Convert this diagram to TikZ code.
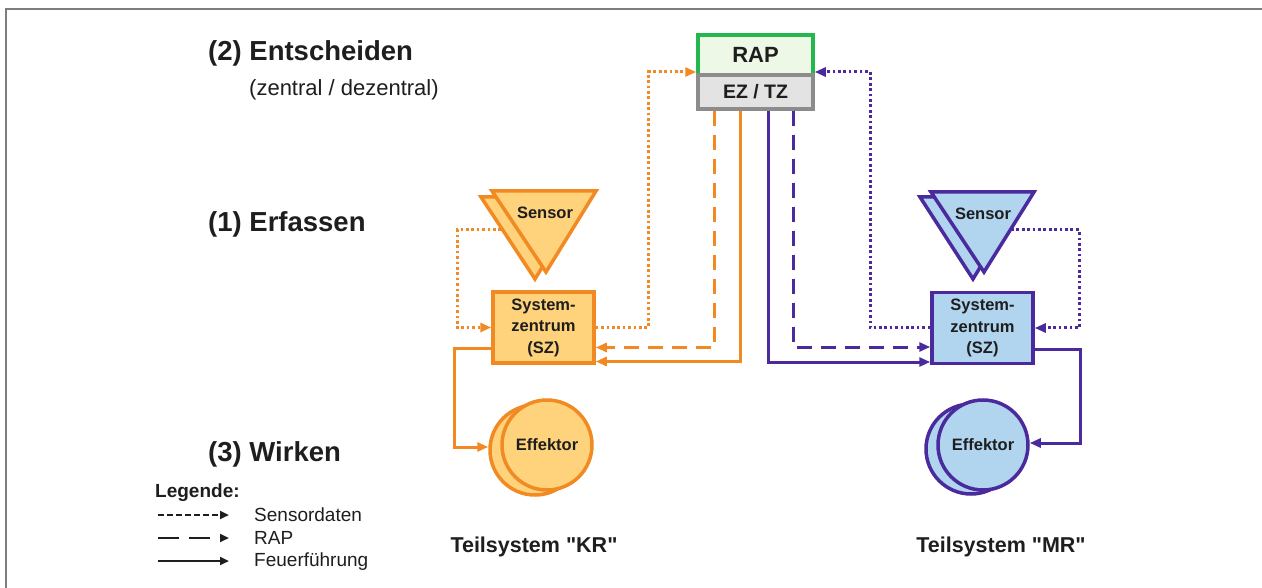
\documentclass[tikz,border=0pt]{standalone}
\usepackage{fontspec}
\setmainfont{Liberation Sans}
\usetikzlibrary{arrows.meta}

\definecolor{orgline}{HTML}{F28A24}
\definecolor{orgfill}{HTML}{FFD27C}
\definecolor{purline}{HTML}{4B2A9E}
\definecolor{purfill}{HTML}{B1D5EF}
\definecolor{rapline}{HTML}{22B84E}
\definecolor{rapfill}{HTML}{EEF8E6}
\definecolor{ezline}{HTML}{8C8C8C}
\definecolor{ezfill}{HTML}{E3E3E3}
\definecolor{ink}{HTML}{1E1E1E}
\definecolor{framegray}{HTML}{7E7E7E}

\tikzset{
  lbl/.style={font=\fontsize{16.5}{21.5}\selectfont\bfseries, text=ink, align=center, inner sep=0pt},
  heading/.style={font=\fontsize{27.5}{32}\selectfont\bfseries, text=ink, anchor=west, inner sep=0pt},
  legtext/.style={font=\fontsize{19}{22}\selectfont, text=ink, anchor=west, inner sep=0pt},
  szbox/.style={draw, line width=3.5pt, minimum width=101pt, minimum height=71pt, lbl},
  effcirc/.style={draw, circle, line width=3.5pt, minimum size=90pt, inner sep=0pt, lbl},
  tri/.style={line width=3.5pt, line join=miter},
  tip/.style={-{Triangle[length=11pt,width=9pt]}},
  sdata/.style={line width=3pt, dash pattern=on 2.7pt off 2.7pt, tip},
  rapflow/.style={line width=3pt, dash pattern=on 15pt off 9pt, tip},
  fire/.style={line width=3pt, tip},
  legtip/.style={-{Triangle[length=9pt,width=8pt]}},
}

\begin{document}
\begin{tikzpicture}[x=1pt,y=-1pt]
\useasboundingbox (0,0) rectangle (1262,588);
\fill[white] (0,0) rectangle (1262,588);

% frame lines
\draw[framegray, line width=1.8pt] (6,588) -- (6,9) -- (1262,9);

% headings
\node[heading] (h2) at (208,53) {(2) Entscheiden};
\node[legtext, font=\fontsize{22}{26}\selectfont] (h2b) at (249,90) {(zentral / dezentral)};
\node[heading] (h1) at (208,224) {(1) Erfassen};
\node[heading] (h3) at (208,454) {(3) Wirken};

% RAP and EZ/TZ
\node[draw=rapline, fill=rapfill, line width=3.5pt, minimum width=115pt, minimum height=40pt,
      lbl, font=\fontsize{22}{24}\selectfont\bfseries] (rap) at (755.5,55) {RAP};
\node[draw=ezline, fill=ezfill, line width=3.5pt, minimum width=115pt, minimum height=34pt,
      lbl, font=\fontsize{19.5}{22}\selectfont\bfseries] (ez) at (755.5,92) {EZ / TZ};

% ---------- Teilsystem KR ----------
\filldraw[tri, draw=orgline, fill=orgfill] (481,197) -- (585,197) -- (535,279) -- cycle;
\filldraw[tri, draw=orgline, fill=orgfill] (492,191) -- (596,191) -- (546,272) -- cycle;
\node[lbl] (sensK) at (545,213) {Sensor};
\coordinate (sensKout) at (501,230);

\node[szbox, draw=orgline, fill=orgfill] (szK) at (543.5,327.5) {System-\\zentrum\\(SZ)};

\node[effcirc, draw=orgline, fill=orgfill] (effKb) at (535,450) {};
\node[effcirc, draw=orgline, fill=orgfill] (effK) at (547,445) {Effektor};

\draw[sdata, orgline] (sensKout) -- ++(-44,0) |- (szK.west);
\draw[sdata, orgline] (szK.east) -- ++(52.5,0) |- ([yshift=-17pt]rap.west);
\draw[rapflow, orgline] ([xshift=-41.5pt]ez.south) |- ([yshift=-20pt]szK.east);
\draw[fire, orgline] ([xshift=-15.5pt]ez.south) |- ([yshift=-34pt]szK.east);
\draw[fire, orgline] ([yshift=-20.5pt]szK.west) -- ++(-36.5,0) |- ([yshift=3pt]effKb.west);

\node[lbl, font=\fontsize{21.5}{24}\selectfont\bfseries] (tsK) at (534,547) {Teilsystem \textquotedbl KR\textquotedbl};

% ---------- Teilsystem MR ----------
\filldraw[tri, draw=purline, fill=purfill] (920,197) -- (1023,197) -- (973,279) -- cycle;
\filldraw[tri, draw=purline, fill=purfill] (931,192) -- (1034,192) -- (984,272) -- cycle;
\node[lbl] (sensM) at (983,214) {Sensor};
\coordinate (sensMout) at (1011,230);

\node[szbox, draw=purline, fill=purfill] (szM) at (982.5,328) {System-\\zentrum\\(SZ)};

\node[effcirc, draw=purline, fill=purfill] (effMb) at (971,449) {};
\node[effcirc, draw=purline, fill=purfill] (effM) at (983,445) {Effektor};

\draw[sdata, purline] (sensMout) -- ++(68,0) |- (szM.east);
\draw[sdata, purline] (szM.west) -- ++(-60,0) |- ([yshift=-17pt]rap.east);
\draw[rapflow, purline] ([xshift=37.5pt]ez.south) |- ([yshift=-19pt]szM.west);
\draw[fire, purline] ([xshift=12.5pt]ez.south) |- ([yshift=-34pt]szM.west);
\draw[fire, purline] ([yshift=-21pt]szM.east) -- ++(46,0) |- ([yshift=2pt]effM.east);

\node[lbl, font=\fontsize{21.5}{24}\selectfont\bfseries] (tsM) at (1001,547) {Teilsystem \textquotedbl MR\textquotedbl};

% ---------- legend ----------
\node[legtext, font=\fontsize{19}{22}\selectfont\bfseries] (leg) at (155,493) {Legende:};
\coordinate (l1a) at (158,515); \coordinate (l1b) at (229,515);
\coordinate (l2a) at (158,538); \coordinate (l2b) at (229,538);
\coordinate (l3a) at (158,561); \coordinate (l3b) at (229,561);
\draw[ink, line width=2.5pt, dash pattern=on 6pt off 3pt, legtip] (l1a) -- (l1b);
\draw[ink, line width=2.5pt, dash pattern=on 21pt off 10pt, legtip] (l2a) -- (l2b);
\draw[ink, line width=2.5pt, legtip] (l3a) -- (l3b);
\node[legtext] (lt1) at (254,515) {Sensordaten};
\node[legtext] (lt2) at (254,538) {RAP};
\node[legtext] (lt3) at (254,562) {Feuerführung};
\end{tikzpicture}
\end{document}
